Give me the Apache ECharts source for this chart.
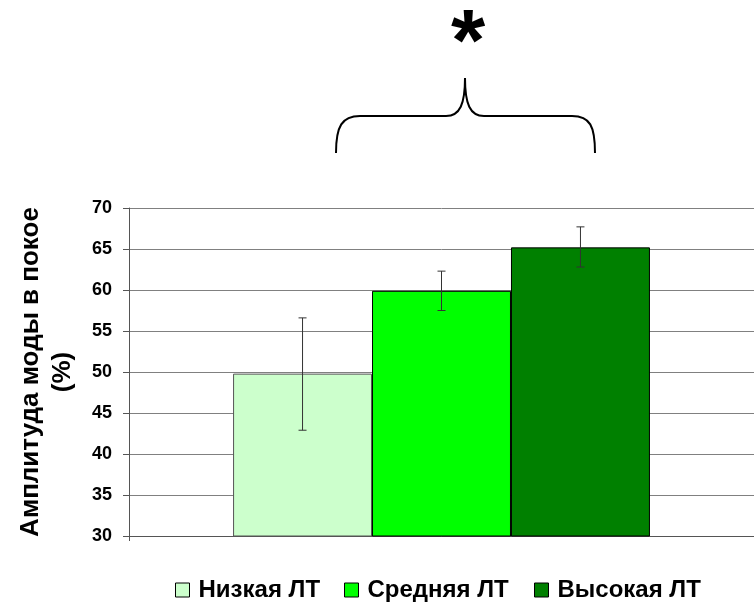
<!DOCTYPE html>
<html>
<head>
<meta charset="utf-8">
<script src="https://cdn.jsdelivr.net/npm/echarts@6/dist/echarts.min.js"></script>
<style>html,body{margin:0;padding:0;background:#fff}#c{width:754px;height:603px}</style>
</head>
<body>
<div id="c"></div>
<script>
const categories = ['Группа'];
const seriesNames = ['Низкая ЛТ', 'Средняя ЛТ', 'Высокая ЛТ'];
const means = [49.8, 59.9, 65.2];
const errLow = [42.9, 57.5, 62.8];
const errHigh = [56.6, 62.3, 67.7];
const colors = ['#CCFFCC', '#00FF00', '#008000'];
const yTicks = { min: 30, max: 70, interval: 5 };

const FONT = 'Arial, "Liberation Sans", sans-serif';
const chart = echarts.init(document.getElementById('c'), null, { renderer: 'canvas' });
const CAT_GAP = 0.333;
const legendLefts = [175, 344, 534];

const barSeries = seriesNames.map((name, i) => ({
  name: name,
  type: 'bar',
  data: [means[i]],
  barGap: '0%',
  barCategoryGap: '33.3%',
  itemStyle: { color: colors[i], borderColor: i === 0 ? '#555' : '#000', borderWidth: 1 },
  emphasis: { disabled: true },
  z: 2
}));

const errSeries = seriesNames.map((name, i) => ({
  type: 'custom',
  name: name + '_err',
  data: [[0, errLow[i], errHigh[i]]],
  z: 5,
  silent: true,
  renderItem: function (params, api) {
    const band = api.size([1, 0])[0];
    const bw = band * (1 - CAT_GAP) / 3;
    const c = api.coord([api.value(0), api.value(1)]);
    const x = c[0] + (i - 1) * bw;
    const yLo = c[1];
    const yHi = api.coord([api.value(0), api.value(2)])[1];
    const hw = 4;
    const st = { stroke: '#333', lineWidth: 1 };
    return {
      type: 'group',
      children: [
        { type: 'line', shape: { x1: x, y1: yLo, x2: x, y2: yHi }, style: st },
        { type: 'line', shape: { x1: x - hw, y1: yLo, x2: x + hw, y2: yLo }, style: st },
        { type: 'line', shape: { x1: x - hw, y1: yHi, x2: x + hw, y2: yHi }, style: st }
      ]
    };
  }
}));

const legends = seriesNames.map((name, i) => ({
  data: [name],
  left: legendLefts[i],
  top: 578,
  padding: 0,
  itemWidth: 14,
  itemHeight: 14,
  icon: 'rect',
  itemStyle: { borderColor: '#000', borderWidth: 1 },
  textStyle: { fontFamily: FONT, fontSize: 24, fontWeight: 'bold', color: '#000', padding: [0, 0, 0, 4] }
}));

const braceStyle = { stroke: '#000', lineWidth: 2, fill: null };
chart.setOption({
  animation: false,
  backgroundColor: '#fff',
  grid: { left: 129, right: 0, top: 208, bottom: 67 },
  legend: legends,
  xAxis: {
    type: 'category',
    data: categories,
    axisLine: { lineStyle: { color: '#555' } },
    axisTick: { show: true, length: 5, lineStyle: { color: '#555' } },
    axisLabel: { show: false }
  },
  yAxis: {
    type: 'value',
    min: yTicks.min, max: yTicks.max, interval: yTicks.interval,
    name: 'Амплитуда моды в покое\n(%)',
    nameLocation: 'middle',
    nameRotate: 90,
    nameGap: 50,
    nameTextStyle: { fontFamily: FONT, fontSize: 26, fontWeight: 'bold', color: '#000', lineHeight: 32, align: 'center' },
    axisLine: { show: true, lineStyle: { color: '#555' } },
    axisTick: { show: true, length: 6, lineStyle: { color: '#555' } },
    axisLabel: { fontFamily: FONT, fontSize: 18, fontWeight: 'bold', color: '#000', margin: 17 },
    splitLine: { lineStyle: { color: '#808080', width: 1 } }
  },
  series: barSeries.concat(errSeries),
  graphic: [
    { type: 'text', x: 468, y: 46, style: { text: '*', fontFamily: FONT, fontSize: 88, fontWeight: 'bold', fill: '#000', textAlign: 'center', textVerticalAlign: 'middle' } },
    { type: 'bezierCurve', shape: { x1: 336, y1: 153, cpx1: 336, cpy1: 126, cpx2: 342, cpy2: 116, x2: 360, y2: 116 }, style: braceStyle },
    { type: 'line', shape: { x1: 360, y1: 116, x2: 446, y2: 116 }, style: braceStyle },
    { type: 'bezierCurve', shape: { x1: 446, y1: 116, cpx1: 460, cpy1: 116, cpx2: 465, cpy2: 104, x2: 465, y2: 78 }, style: braceStyle },
    { type: 'bezierCurve', shape: { x1: 465, y1: 78, cpx1: 465, cpy1: 104, cpx2: 470, cpy2: 116, x2: 484, y2: 116 }, style: braceStyle },
    { type: 'line', shape: { x1: 484, y1: 116, x2: 572, y2: 116 }, style: braceStyle },
    { type: 'bezierCurve', shape: { x1: 572, y1: 116, cpx1: 590, cpy1: 116, cpx2: 595, cpy2: 126, x2: 595, y2: 153 }, style: braceStyle }
  ]
});
</script>
</body>
</html>
